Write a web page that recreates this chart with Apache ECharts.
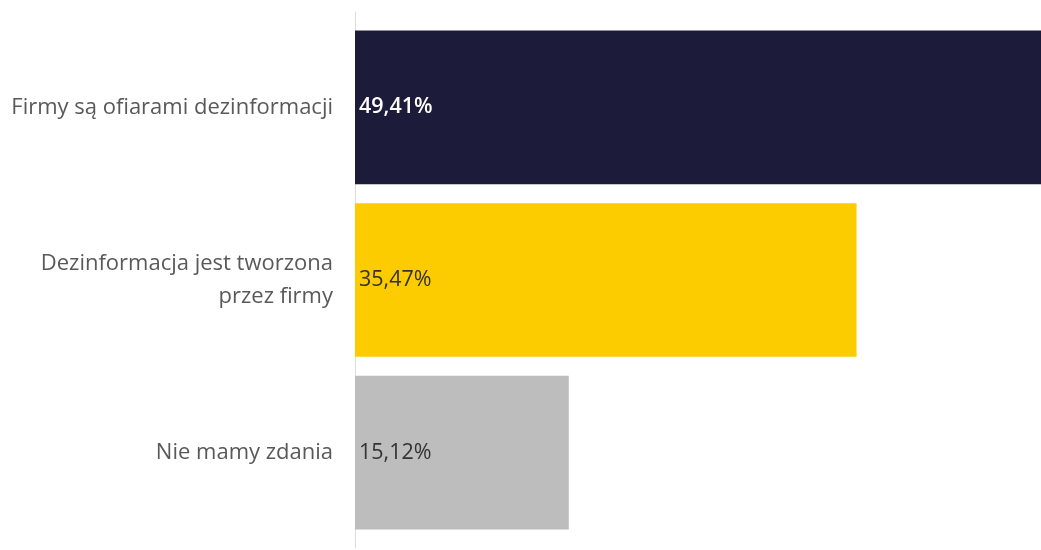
<!DOCTYPE html>
<html><head><meta charset="utf-8">
<script src="https://cdn.jsdelivr.net/npm/echarts@6/dist/echarts.min.js"></script>
<style>html,body{margin:0;padding:0;background:#fff}#c{width:1041px;height:550px}</style>
</head><body><div id="c"></div>
<script>
const categories = ["Firmy są ofiarami dezinformacji", "Dezinformacja jest tworzona\nprzez firmy", "Nie mamy zdania"];
const values = [49.41, 35.47, 15.12];
const barColors = ["#1c1c3a", "#fccb00", "#bdbdbd"];
const labelColors = ["#ffffff", "#333333", "#333333"];

const chart = echarts.init(document.getElementById('c'), null, {renderer: 'canvas'});
const font = "'Open Sans', sans-serif";
chart.setOption({
  animation: false,
  grid: [
    {left: 355, width: 707, top: 21, bottom: 11, outerBoundsMode: 'none', containLabel: false},
    {left: 355, width: 707, top: 12, bottom: 2, outerBoundsMode: 'none', containLabel: false}
  ],
  xAxis: [
    {type: 'value', min: 0, max: 50, gridIndex: 0, show: false},
    {type: 'value', min: 0, max: 50, gridIndex: 1, show: false}
  ],
  yAxis: [
    {type: 'category', gridIndex: 0, inverse: true, data: categories,
     axisLine: {show: false}, axisTick: {show: false},
     axisLabel: {fontFamily: font, fontSize: 22, color: '#595959', margin: 22, lineHeight: 33, align: 'right'}},
    {type: 'category', gridIndex: 1, data: [''],
     axisLine: {show: true, lineStyle: {color: '#dcdcdc', width: 1}}, axisTick: {show: false}, axisLabel: {show: false}}
  ],
  series: [{
    type: 'bar', xAxisIndex: 0, yAxisIndex: 0,
    barCategoryGap: '11%',
    data: values.map((v, i) => ({value: v, itemStyle: {color: barColors[i]},
      label: {color: labelColors[i], fontWeight: i === 0 ? 600 : 'normal'}})),
    label: {show: true, position: 'insideLeft', distance: 4, fontFamily: font, fontSize: 21.5,
      formatter: p => p.value.toFixed(2).replace('.', ',') + '%'}
  }]
});
</script></body></html>
